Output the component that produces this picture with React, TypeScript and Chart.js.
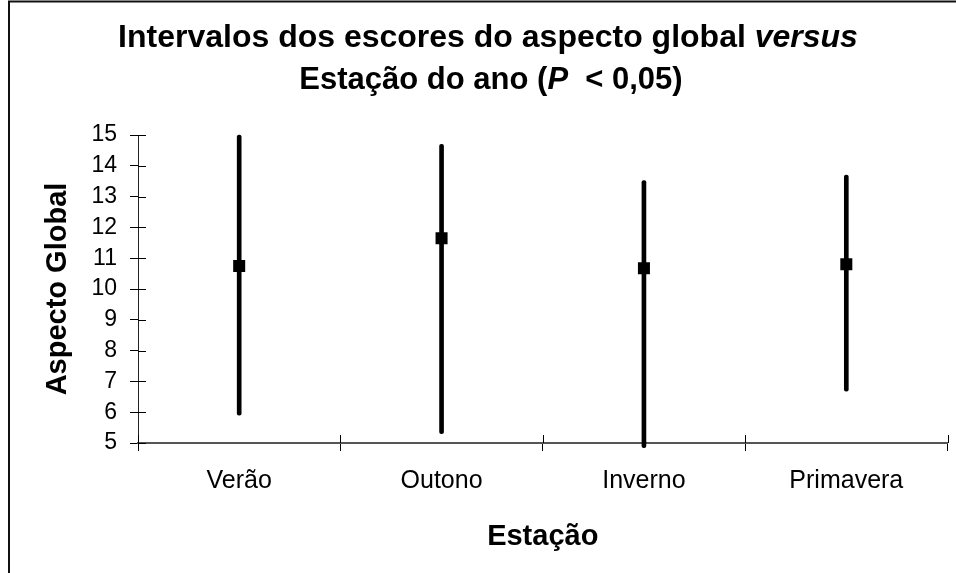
import React, { useEffect, useRef } from "react";
import { Chart, registerables } from "chart.js";

Chart.register(...registerables);

const seasons = ["Verão", "Outono", "Inverno", "Primavera"];
const meanScores = [10.75, 11.65, 10.67, 10.8];
const lowerScores = [5.9, 5.3, 4.85, 6.68];
const upperScores = [15.0, 14.7, 13.52, 13.7];
const yMin = 5;
const yMax = 15;
const titleLine1: [string, boolean][] = [["Intervalos dos escores do aspecto global ", false], ["versus", true]];
const titleLine2: [string, boolean][] = [["Estação do ano (", false], ["P", true], ["  < 0,05)", false]];
const yAxisTitle = "Aspecto Global";
const xAxisTitle = "Estação";

const FAMILY = "'Liberation Sans', Arial, sans-serif";

const framePlugin = {
  id: "frame",
  beforeDraw(chart: any) {
    const ctx = chart.ctx;
    ctx.save();
    ctx.fillStyle = "#fff";
    ctx.fillRect(0, 0, chart.width, chart.height);
    ctx.strokeStyle = "#111";
    ctx.lineWidth = 2;
    ctx.beginPath();
    ctx.moveTo(9, chart.height + 5);
    ctx.lineTo(9, 1.5);
    ctx.lineTo(chart.width + 5, 1.5);
    ctx.stroke();
    ctx.restore();
  },
};

const titlePlugin = {
  id: "richTitle",
  afterDraw(chart: any) {
    const ctx = chart.ctx;
    const fontFor = (it: boolean, size: number) => `${it ? "italic " : ""}bold ${size}px ${FAMILY}`;
    const drawLine = (segs: [string, boolean][], size: number, cx: number, cy: number) => {
      let total = 0;
      segs.forEach(([t, it]) => {
        ctx.font = fontFor(it, size);
        total += ctx.measureText(t).width;
      });
      let x = cx - total / 2;
      segs.forEach(([t, it]) => {
        ctx.font = fontFor(it, size);
        ctx.fillText(t, x, cy);
        x += ctx.measureText(t).width;
      });
    };
    ctx.save();
    ctx.fillStyle = "#000";
    ctx.textBaseline = "middle";
    ctx.textAlign = "left";
    drawLine(titleLine1, 32, 488, 38);
    drawLine(titleLine2, 31, 491, 80);
    ctx.restore();
  },
};

const innerTicksPlugin = {
  id: "innerTicks",
  afterDatasetsDraw(chart: any) {
    const ctx = chart.ctx;
    const x = chart.scales.x;
    const y = chart.scales.y;
    const area = chart.chartArea;
    ctx.save();
    ctx.strokeStyle = "#000";
    ctx.lineWidth = 1;
    ctx.beginPath();
    for (let v = yMin; v <= yMax; v++) {
      const py = Math.round(y.getPixelForValue(v)) + 0.5;
      ctx.moveTo(area.left, py);
      ctx.lineTo(area.left + 8, py);
    }
    for (let i = 0; i <= seasons.length; i++) {
      const px = Math.round(x.getPixelForValue(i - 0.5)) + 0.5;
      ctx.moveTo(px, area.bottom);
      ctx.lineTo(px, area.bottom - 8);
    }
    ctx.stroke();
    ctx.restore();
  },
};

export default function App() {
  const ref = useRef<HTMLCanvasElement | null>(null);

  useEffect(() => {
    if (!ref.current) return;
    const chart = new Chart(ref.current, {
      type: "bar",
      data: {
        labels: seasons,
        datasets: [
          {
            type: "line",
            label: "Média",
            data: meanScores,
            showLine: false,
            pointStyle: "rect",
            pointRadius: 8.5,
            pointHoverRadius: 8.5,
            pointBackgroundColor: "#000",
            pointBorderColor: "#000",
            pointBorderWidth: 0,
            order: 0,
          } as any,
          {
            type: "bar",
            label: "Intervalo",
            data: seasons.map((_, i) => [lowerScores[i], upperScores[i]]),
            backgroundColor: "#000",
            borderWidth: 0,
            borderRadius: 2,
            borderSkipped: false,
            barThickness: 4,
            clip: false,
            order: 1,
          } as any,
        ],
      },
      options: {
        responsive: false,
        maintainAspectRatio: false,
        animation: false,
        layout: { padding: { top: 135, right: 5, left: 0, bottom: 0 } },
        plugins: {
          legend: { display: false },
          tooltip: { enabled: false },
          title: { display: false },
        },
        scales: {
          x: {
            offset: true,
            grid: {
              offset: true,
              drawOnChartArea: false,
              drawTicks: true,
              tickLength: 8,
              color: "#000",
              lineWidth: 1,
            },
            border: { display: true, color: "#555", width: 2 },
            ticks: { font: { size: 25, family: FAMILY }, color: "#000", padding: 15, autoSkip: false, maxRotation: 0 },
            title: {
              display: true,
              text: xAxisTitle,
              color: "#000",
              font: { size: 29, weight: "bold", family: FAMILY },
              padding: { top: 0, bottom: 19 },
            },
            afterFit: (s: any) => {
              s.height = 130;
            },
          },
          y: {
            min: yMin,
            max: yMax,
            grid: {
              drawOnChartArea: false,
              drawTicks: true,
              tickLength: 8,
              color: "#000",
              lineWidth: 1,
            },
            border: { display: true, color: "#222", width: 1 },
            ticks: {
              stepSize: 1,
              autoSkip: false,
              font: { size: 23, family: FAMILY },
              color: "#000",
              padding: 13,
            },
            title: {
              display: true,
              text: yAxisTitle,
              color: "#000",
              font: { size: 29, weight: "bold", family: FAMILY },
              padding: { top: 41, bottom: 0 },
            },
            afterFit: (s: any) => {
              s.width = 138;
            },
          },
        },
      },
      plugins: [framePlugin, titlePlugin, innerTicksPlugin],
    } as any);
    return () => chart.destroy();
  }, []);

  return (
    <div style={{ position: "absolute", left: 0, top: 0, width: 956, height: 573 }}>
      <canvas ref={ref} width={956} height={573} style={{ display: "block" }} />
    </div>
  );
}
